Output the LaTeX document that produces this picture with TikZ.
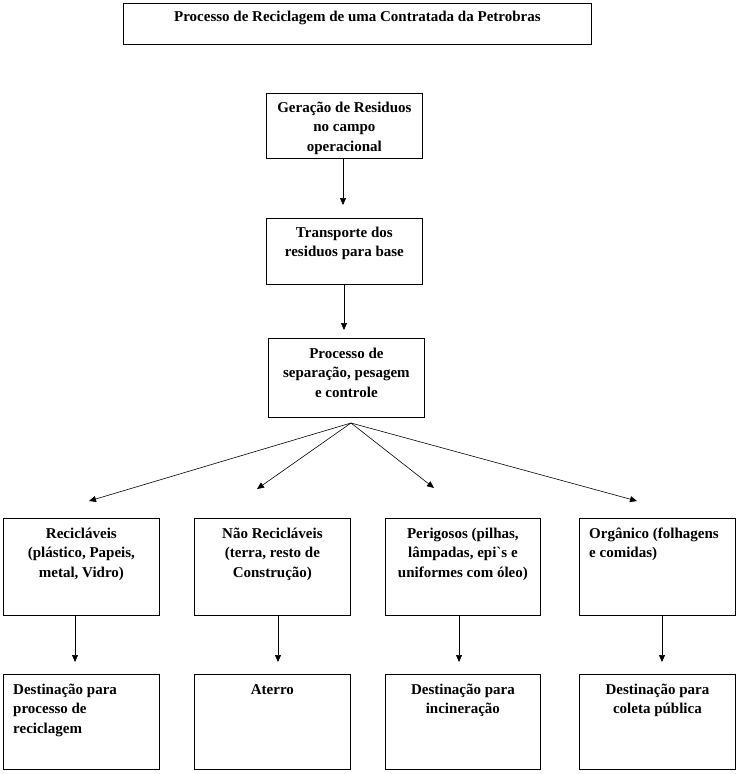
\documentclass[tikz,border=0pt]{standalone}
\usepackage{fontspec}
\setmainfont{Liberation Serif}
\usetikzlibrary{arrows.meta}
\tikzset{
  box/.style={draw, line width=0.8pt, rectangle, inner sep=0pt, anchor=north west},
  txt/.style={anchor=north, inner sep=0pt, font=\fontsize{15}{19.5}\selectfont\bfseries, align=center},
  ltxt/.style={anchor=north west, inner sep=0pt, font=\fontsize{15}{19.5}\selectfont\bfseries, align=left},
  arr/.style={line width=0.6pt, -{Triangle[length=7pt,width=6pt]}},
}
\newcommand{\fl}{\rule{0pt}{14pt}}
\begin{document}
\begin{tikzpicture}[x=1pt,y=-1pt]
\useasboundingbox (0,0) rectangle (738,774);
% title
\node[box, minimum width=468pt, minimum height=41pt] (title) at (123,3) {};
\node[txt] (ttitle) at ([yshift=-4pt]title.north) {\fl Processo de Reciclagem de uma Contratada da Petrobras};
% chain
\node[box, minimum width=156pt, minimum height=65pt] (ger) at (266,93) {};
\node[txt] (tger) at ([yshift=-5pt]ger.north) {\fl Geração de Residuos\\no campo\\operacional};
\node[box, minimum width=156pt, minimum height=66pt] (tra) at (266,218) {};
\node[txt] (ttra) at ([yshift=-5pt]tra.north) {\fl Transporte dos\\residuos para base};
\node[box, minimum width=156pt, minimum height=79pt] (pro) at (268,338) {};
\node[txt] (tpro) at ([yshift=-6pt]pro.north) {\fl Processo de\\separação, pesagem\\e controle};
\coordinate (a1) at (343,205);
\coordinate (a2) at (344,330);
\draw[arr] (ger.south -| a1) -- (a1);
\draw[arr] (tra.south -| a2) -- (a2);
% fan
\coordinate (fan) at (351,423);
\coordinate (f1) at (89,501);
\coordinate (f2) at (257,489);
\coordinate (f3) at (434,488);
\coordinate (f4) at (637,501);
\draw[arr] (fan) -- (f1);
\draw[arr] (fan) -- (f2);
\draw[arr] (fan) -- (f3);
\draw[arr] (fan) -- (f4);
% categories
\node[box, minimum width=156pt, minimum height=97pt] (c1) at (3,518) {};
\node[txt] (tc1) at ([yshift=-6pt]c1.north) {\fl Recicláveis\\(plástico, Papeis,\\metal, Vidro)};
\node[box, minimum width=156pt, minimum height=97pt] (c2) at (194,518) {};
\node[txt] (tc2) at ([yshift=-6pt]c2.north) {\fl Não Recicláveis\\(terra, resto de\\Construção)};
\node[box, minimum width=155pt, minimum height=97pt] (c3) at (385,518) {};
\node[txt] (tc3) at ([yshift=-6pt]c3.north) {\fl Perigosos (pilhas,\\lâmpadas, epi\textasciigrave s e\\uniformes com óleo)};
\node[box, minimum width=156pt, minimum height=97pt] (c4) at (579,518) {};
\node[ltxt] (tc4) at ([xshift=10pt,yshift=-6pt]c4.north west) {\fl Orgânico (folhagens\\e comidas)};
% arrows down
\coordinate (d1) at (75,662);
\coordinate (d2) at (278,662);
\coordinate (d3) at (459,662);
\coordinate (d4) at (662,662);
\draw[arr] (c1.south -| d1) -- (d1);
\draw[arr] (c2.south -| d2) -- (d2);
\draw[arr] (c3.south -| d3) -- (d3);
\draw[arr] (c4.south -| d4) -- (d4);
% destinations
\node[box, minimum width=156pt, minimum height=95pt] (e1) at (3,674) {};
\node[ltxt] (te1) at ([xshift=10pt,yshift=-6pt]e1.north west) {\fl Destinação para\\processo de\\reciclagem};
\node[box, minimum width=156pt, minimum height=95pt] (e2) at (194,674) {};
\node[txt] (te2) at ([yshift=-6pt]e2.north) {\fl Aterro};
\node[box, minimum width=155pt, minimum height=95pt] (e3) at (385,674) {};
\node[txt] (te3) at ([yshift=-6pt]e3.north) {\fl Destinação para\\incineração};
\node[box, minimum width=156pt, minimum height=95pt] (e4) at (579,674) {};
\node[txt] (te4) at ([yshift=-6pt]e4.north) {\fl Destinação para\\coleta pública};
\end{tikzpicture}
\end{document}
